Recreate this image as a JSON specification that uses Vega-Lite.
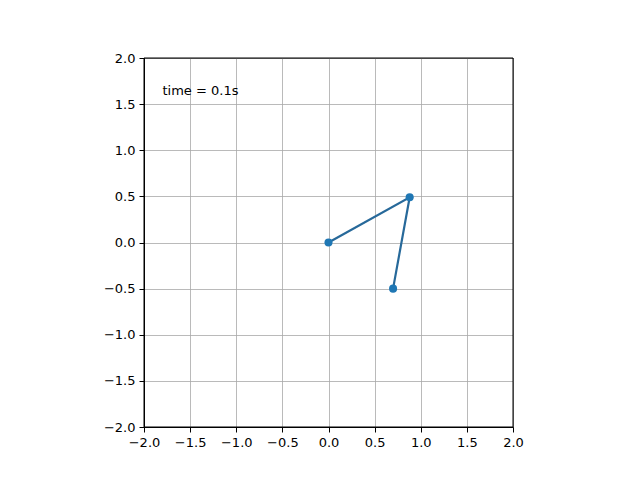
{
  "$schema": "https://vega.github.io/schema/vega-lite/v6.json",
  "width": 369,
  "height": 369,
  "autosize": {"type": "none"},
  "padding": {"left": 144, "top": 58, "right": 127, "bottom": 53},
  "background": "white",
  "config": {
    "view": {"stroke": "black", "strokeWidth": 1},
    "axis": {
      "labelFont": "DejaVu Sans",
      "labelFontSize": 13,
      "labelColor": "black",
      "tickColor": "black",
      "tickSize": 5,
      "tickWidth": 1,
      "labelPadding": 4,
      "labelOverlap": false,
      "labelFlush": false,
      "domain": true,
      "domainColor": "black",
      "grid": true,
      "gridColor": "#a8a8a8",
      "gridWidth": 0.8,
      "title": null
    }
  },
  "datasets": {
    "pend": [
      {"x": 0.0, "y": 0.0, "k": 0},
      {"x": 0.88, "y": 0.49, "k": 1},
      {"x": 0.70, "y": -0.50, "k": 2}
    ],
    "label": [{"x": -1.8, "y": 1.6, "text": "time = 0.1s"}],
    "frame": [{"x1": -2, "x2": 2, "y1": -2, "y2": 2}]
  },
  "layer": [
    {
      "data": {"name": "pend"},
      "mark": {"type": "line", "color": "#27699a", "strokeWidth": 2.2},
      "encoding": {
        "x": {"field": "x", "type": "quantitative", "scale": {"domain": [-2, 2], "nice": false, "zero": false},
              "axis": {"values": [-2, -1.5, -1, -0.5, 0, 0.5, 1, 1.5, 2], "format": ".1f", "labelAngle": 0}},
        "y": {"field": "y", "type": "quantitative", "scale": {"domain": [-2, 2], "nice": false, "zero": false},
              "axis": {"values": [-2, -1.5, -1, -0.5, 0, 0.5, 1, 1.5, 2], "format": ".1f"}},
        "order": {"field": "k"}
      }
    },
    {
      "data": {"name": "pend"},
      "mark": {"type": "circle", "color": "#1f77b4", "opacity": 1, "size": 65},
      "encoding": {
        "x": {"field": "x", "type": "quantitative"},
        "y": {"field": "y", "type": "quantitative"}
      }
    },
    {
      "data": {"name": "frame"},
      "mark": {"type": "rect", "fill": null, "fillOpacity": 0, "stroke": "black", "strokeWidth": 1},
      "encoding": {
        "x": {"field": "x1", "type": "quantitative"},
        "x2": {"field": "x2"},
        "y": {"field": "y1", "type": "quantitative"},
        "y2": {"field": "y2"}
      }
    },
    {
      "data": {"name": "label"},
      "mark": {"type": "text", "align": "left", "baseline": "alphabetic", "font": "DejaVu Sans", "fontSize": 13, "color": "black"},
      "encoding": {
        "x": {"field": "x", "type": "quantitative"},
        "y": {"field": "y", "type": "quantitative"},
        "text": {"field": "text"}
      }
    }
  ]
}
